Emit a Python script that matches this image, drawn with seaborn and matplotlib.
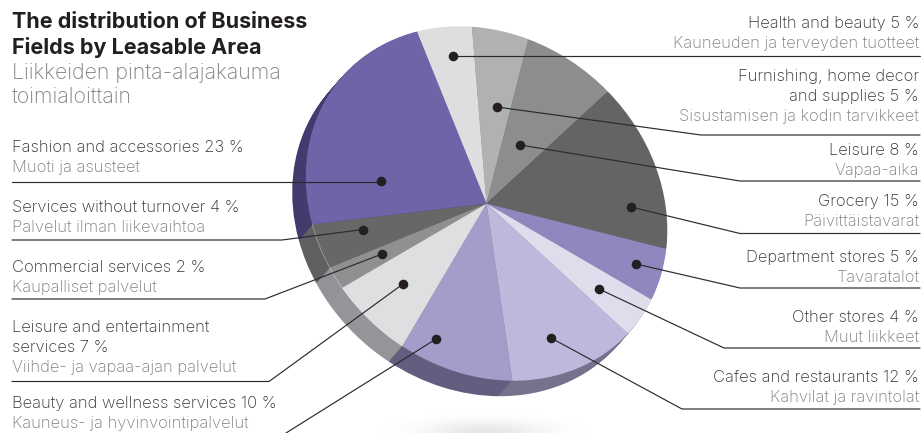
import numpy as np
import pandas as pd
import matplotlib
matplotlib.use("Agg")
import matplotlib.pyplot as plt
from matplotlib.transforms import Affine2D
import seaborn as sns

# Share of leasable area by business field, clockwise from the top of the pie
fields = ["Health and beauty", "Furnishing, home decor and supplies", "Leisure", "Grocery",
          "Department stores", "Other stores", "Cafes and restaurants",
          "Beauty and wellness services", "Leisure and entertainment services",
          "Commercial services", "Services without turnover", "Fashion and accessories"]
shares = [5, 5, 8, 15, 5, 4, 12, 10, 7, 2, 4, 23]

top_colors = ["#dddee0", "#b0b1b3", "#8c8d8f", "#646465", "#9087bf", "#dfdcec",
              "#bdb9dc", "#a49dc9", "#dedfe1", "#8f9092", "#676768", "#6e64a8"]
side_colors = ["#a9aaac", "#8a8b8d", "#6c6d6f", "#4d4d4f", "#6f6995", "#8d8a9e",
               "#75728e", "#635e80", "#949598", "#929396", "#606062", "#433a6e"]

# Text blocks: (x, baseline y, string, style)
left_text = [
    (12, 152, "Fashion and accessories 23 %", "main"),
    (12, 172, "Muoti ja asusteet", "sub"),
    (12, 212, "Services without turnover 4 %", "main"),
    (12, 232, "Palvelut ilman liikevaihtoa", "sub"),
    (12, 272, "Commercial services 2 %", "main"),
    (12, 292, "Kaupalliset palvelut", "sub"),
    (12, 332, "Leisure and entertainment", "main"),
    (12, 352, "services 7 %", "main"),
    (12, 372, "Viihde- ja vapaa-ajan palvelut", "sub"),
    (12, 408, "Beauty and wellness services 10 %", "main"),
    (12, 428, "Kauneus- ja hyvinvointipalvelut", "sub"),
]
right_text = [
    (919, 28, "Health and beauty 5 %", "main"),
    (919, 48, "Kauneuden ja terveyden tuotteet", "sub"),
    (919, 81, "Furnishing, home decor", "main"),
    (919, 101, "and supplies 5 %", "main"),
    (919, 121, "Sisustamisen ja kodin tarvikkeet", "sub"),
    (919, 155, "Leisure 8 %", "main"),
    (919, 175, "Vapaa-aika", "sub"),
    (919, 206, "Grocery 15 %", "main"),
    (919, 226, "Päivittäistavarat", "sub"),
    (919, 262, "Department stores 5 %", "main"),
    (919, 282, "Tavaratalot", "sub"),
    (919, 322, "Other stores 4 %", "main"),
    (919, 342, "Muut liikkeet", "sub"),
    (919, 382, "Cafes and restaurants 12 %", "main"),
    (919, 402, "Kahvilat ja ravintolat", "sub"),
]

# Callout layout in figure pixels: anchor dot, knee, far end of the rule
callouts = [
    ((453, 56), (700, 56), (920, 56)),
    ((497, 107), (701, 135), (920, 135)),
    ((520, 145), (740, 181), (920, 181)),
    ((631, 207), (740, 233.5), (920, 233.5)),
    ((636, 264), (740, 288), (920, 288)),
    ((599, 289), (724, 348), (920, 348)),
    ((551, 338), (682, 409), (920, 409)),
    ((436, 339), (286, 433), (286, 433)),
    ((403, 284), (269, 381.5), (12, 381.5)),
    ((382, 254), (265, 299), (12, 299)),
    ((363, 229.5), (282, 240), (12, 240)),
    ((381, 181), (381, 182), (12, 182)),
]

sns.set_theme(style="white")
plt.rcParams["font.family"] = ["Inter", "DejaVu Sans"]

W, H = 923, 433
fig = plt.figure(figsize=(W / 100, H / 100), dpi=100, facecolor="white")
ax = fig.add_axes([0, 0, 1, 1])

CX, CY = 486.5, 203.5
OFFSET = np.array([-13.5, 15.5])
START_ANGLE = 108.3


def disc_transform(dx=0.0, dy=0.0):
    """Map the unit pie to a tilted disc, long axis running upper left to lower right."""
    return (Affine2D().rotate_deg(-135).scale(192, 165).rotate_deg(135)
            .scale(1.01, -0.99).translate(CX + dx, CY + dy))


def draw_pie(colors, dx=0.0, dy=0.0, zorder=2):
    wedges, _ = ax.pie(shares, colors=colors, startangle=START_ANGLE, counterclock=False,
                       wedgeprops=dict(linewidth=0))
    for w in wedges:
        w.set_transform(disc_transform(dx, dy) + ax.transData)
        w.set_zorder(zorder)


# Soft shadow under the pie
gx, gy = np.meshgrid(np.linspace(380, 590, 210), np.linspace(405, 433, 60))
fall = np.exp(-(((gx - 485) / 58) ** 2 + ((gy - 432) / 11) ** 2))
shadow = np.zeros(gx.shape + (4,))
shadow[..., 3] = 0.10 * fall
ax.imshow(shadow, extent=(380, 590, 433, 405), aspect="auto", zorder=1, interpolation="bilinear")

# Pie side: the disc swept along the extrusion direction, far copy first
for step in np.linspace(1, 0.05, 16):
    draw_pie(side_colors, *(OFFSET * step), zorder=2)
draw_pie(top_colors, zorder=3)

# Thin highlight where the top meets the side on the lower left
cum = np.cumsum(shares) * 3.6
t = np.radians(START_ANGLE - np.linspace(cum[7], cum[10], 60))
rim = disc_transform().transform(np.column_stack([np.cos(t), np.sin(t)]))
ax.plot(rim[:, 0], rim[:, 1], color="white", lw=0.4, alpha=0.55, zorder=4)

for start, knee, end in callouts:
    xs, ys = zip(start, knee, end)
    ax.plot(xs, ys, color="#2b2a2c", lw=0.85, zorder=5, solid_joinstyle="miter")

anchors = pd.DataFrame([c[0] for c in callouts], columns=["x", "y"])
sns.scatterplot(data=anchors, x="x", y="y", s=48, color="#231f20", linewidth=0, zorder=6,
                legend=False, ax=ax)

styles = {"main": dict(color="#333335", fontsize=11.9, fontweight="light"),
          "sub": dict(color="#7f8082", fontsize=11.9, fontweight="light")}
for x, y, s, style in left_text:
    ax.text(x, y, s, ha="left", va="baseline", zorder=7, **styles[style])
for x, y, s, style in right_text:
    ax.text(x, y, s, ha="right", va="baseline", zorder=7, **styles[style])

ax.text(12, 28, "The distribution of Business", fontsize=15.5, fontweight="bold", color="#231f20", zorder=7)
ax.text(12, 54, "Fields by Leasable Area", fontsize=15.5, fontweight="bold", color="#231f20", zorder=7)
ax.text(12, 79, "Liikkeiden pinta-alajakauma", fontsize=15.4, fontweight="light", color="#7f8082", zorder=7)
ax.text(12, 103, "toimialoittain", fontsize=15.4, fontweight="light", color="#7f8082", zorder=7)

ax.set(xlim=(0, W), ylim=(H, 0), aspect="auto", xlabel="", ylabel="")
ax.set_axis_off()
fig.savefig("out.png", dpi=100, facecolor="white")
